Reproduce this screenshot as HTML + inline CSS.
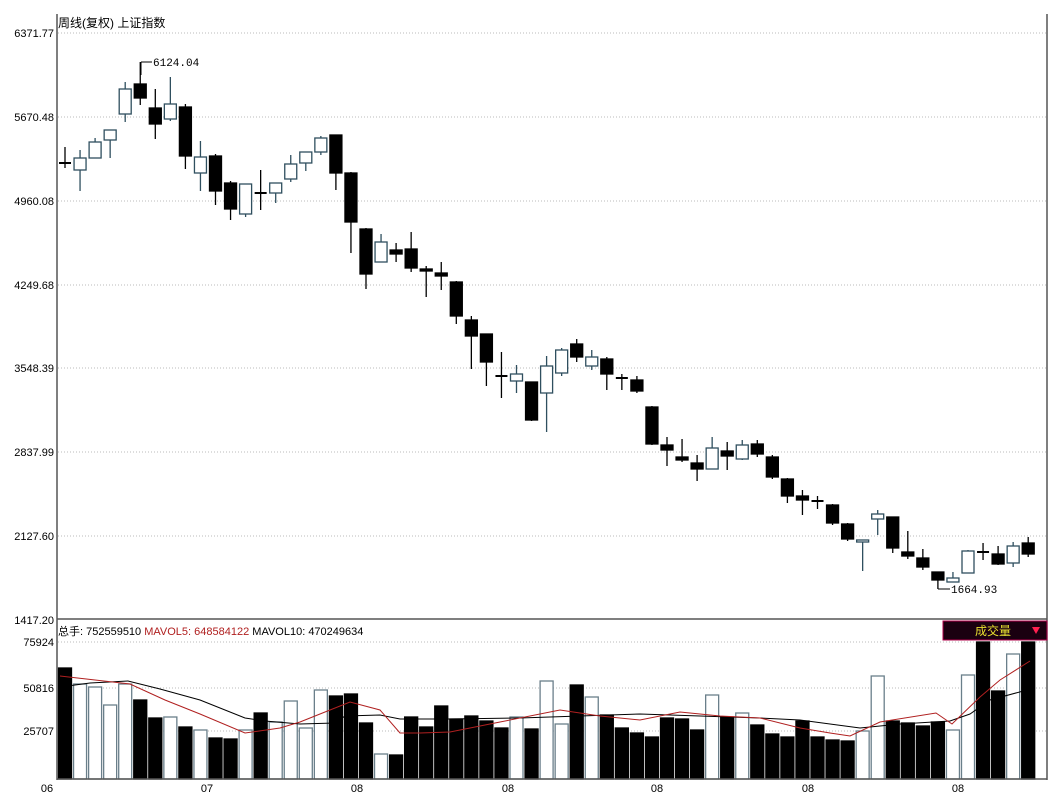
<!DOCTYPE html>
<html><head><meta charset="utf-8"><style>
body{margin:0;background:#fff;}
svg{display:block;font-family:"Liberation Sans","Noto Sans CJK SC",sans-serif;}
</style></head><body>
<svg id="s" width="1059" height="801" xmlns="http://www.w3.org/2000/svg"></svg>
<script>
const c=[
[163,163,147,168,668,0],[170,158,150,191,684,1],[158,142,138,158,687,1],[140,130,130,158,705,1],[114,89,82,122,684,1],
[84,98,62,105,700,0],[108,124,89,139,718,0],[119,104,77,121,717,1],[107,156,104,169,727,0],[173,157,141,191,730,1],
[156,191,154,205,738,0],[183,209,181,220,739,0],[214,184,184,217,730,1],[193,193,170,210,713,0],[193,183,183,203,722,1],
[179,164,155,182,701,1],[163,152,152,171,728,1],[152,138,136,155,690,1],[135,173,135,190,696,0],[173,222,172,253,694,0],
[229,274,228,289,723,0],[262,242,234,262,754,1],[250,254,243,262,755,0],[249,268,232,272,717,0],[269,271,266,297,727,0],
[273,276,262,290,706,0],[282,316,281,324,719,0],[320,336,316,369,716,0],[334,362,334,386,721,0],[376,377,352,398,728,0],
[381,374,365,393,717,1],[382,420,382,421,729,0],[393,366,356,432,681,1],[373,350,348,376,724,1],[344,357,339,362,685,0],
[366,357,350,370,697,1],[359,374,357,390,715,0],[378,379,374,390,728,0],[380,391,376,393,733,0],[407,444,406,445,737,0],
[445,450,437,466,718,0],[457,460,439,462,719,0],[463,469,455,481,730,0],[469,448,437,469,695,1],[451,456,442,470,717,0],
[459,445,440,460,713,1],[444,454,440,457,725,0],[457,477,455,479,734,0],[479,496,478,503,737,0],[496,500,490,515,721,0],
[501,502,496,509,737,0],[505,523,504,525,740,0],[524,539,523,541,741,0],[542,540,540,571,731,1],[519,514,510,535,676,1],
[517,548,517,553,721,0],[552,556,531,559,723,0],[558,567,549,570,726,0],[572,580,572,589,722,0],[582,578,572,582,730,1],
[573,551,550,573,675,1],[552,553,543,560,642,0],[554,564,546,565,691,0],[563,546,542,567,654,1],[543,554,537,557,642,0]];
let h='';
// grid
const gy=[33,117,201,285,368,452,536],gl=['6371.77','5670.48','4960.08','4249.68','3548.39','2837.99','2127.60'];
gy.forEach((y,i)=>{h+=`<line x1="58" y1="${y}" x2="1046" y2="${y}" stroke="#bbb" stroke-dasharray="1,2"/>`;h+=`<text x="54" y="${y+4}" font-size="11" text-anchor="end">${gl[i]}</text>`;});
[[642,'75924'],[688,'50816'],[731,'25707']].forEach(([y,t])=>{h+=`<line x1="58" y1="${y}" x2="1046" y2="${y}" stroke="#bbb" stroke-dasharray="1,2"/>`;h+=`<text x="54" y="${y+4}" font-size="11" text-anchor="end">${t}</text>`;});
h+=`<text x="54" y="624" font-size="11" text-anchor="end">1417.20</text>`;
c.forEach((d,i)=>{const x=65+15.05*i;const [o,cl,hi,lo,v,up]=d;const t=Math.min(o,cl),b=Math.max(o,cl);
 const col=up?'#2f4f5f':'#000';
 h+=`<line x1="${x}" y1="${hi}" x2="${x}" y2="${lo}" stroke="${col}" stroke-width="1.3"/>`;
 if(b-t<2){h+=`<rect x="${x-6}" y="${t-1}" width="12" height="2" fill="${col}"/>`;}
 else h+=`<rect x="${x-6}" y="${t}" width="12" height="${b-t}" fill="${up?'#fff':'#000'}" stroke="${col}" stroke-width="1.3"/>`;
 h+=`<rect x="${x-6.5}" y="${v}" width="13" height="${779-v}" fill="${up?'#fff':'#000'}" stroke="${up?'#6a7f8a':'#000'}" stroke-width="1.3"/>`;});
const bl=[[60,687],[90,683],[128,681],[160,689],[200,700],[245,718],[265,721],[300,724],[335,723],[345,716],[380,715],[400,719],[450,719],[520,718],[580,716],[640,714],[700,716],[760,718],[800,720],[860,728],[900,724],[950,721],[970,714],[990,700],[1027,690]];
const rl=[[60,676],[130,684],[165,700],[200,714],[245,733],[280,728],[300,722],[330,710],[350,702],[380,710],[400,733],[420,733],[450,732],[500,722],[560,710],[600,716],[640,720],[680,712],[720,716],[760,718],[800,728],[830,733],[850,736],[880,722],[936,713],[952,724],[980,697],[1000,680],[1030,661]];
h+=`<polyline points="${bl.join(' ')}" fill="none" stroke="#000" stroke-width="1"/>`;
h+=`<polyline points="${rl.join(' ')}" fill="none" stroke="#b02020" stroke-width="1"/>`;
// frame
h+=`<line x1="57" y1="14" x2="57" y2="780" stroke="#555" stroke-width="1.5"/><line x1="1047" y1="14" x2="1047" y2="780" stroke="#555" stroke-width="1.5"/>`;
h+=`<line x1="57" y1="619" x2="1047" y2="619" stroke="#555" stroke-width="1.5"/><line x1="57" y1="779" x2="1047" y2="779" stroke="#555" stroke-width="1.5"/>`;
[['06',47],['07',207],['08',357],['08',508],['08',657],['08',808],['08',958]].forEach(([t,x])=>{h+=`<text x="${x}" y="792" font-size="11" text-anchor="middle">${t}</text>`;});
h+=`<text x="58" y="27" font-size="12">周线(复权)  上证指数</text>`;
h+=`<text x="58" y="635" font-size="11">总手: 752559510 <tspan fill="#b02020">MAVOL5: 648584122</tspan> MAVOL10: 470249634</text>`;
h+=`<line x1="141" y1="62" x2="141" y2="75" stroke="#000"/><line x1="141" y1="62" x2="152" y2="62" stroke="#000"/><text x="153" y="66" font-size="11" font-family="Liberation Mono,monospace">6124.04</text>`;
h+=`<line x1="938" y1="589" x2="950" y2="589" stroke="#000"/><text x="951" y="593" font-size="11" font-family="Liberation Mono,monospace">1664.93</text>`;
h+=`<rect x="943" y="621" width="104" height="19" fill="#1a0010" stroke="#b0004a"/><text x="993" y="635" font-size="12" fill="#e8e030" text-anchor="middle">成交量</text><polygon points="1032,627 1040,627 1036,634" fill="#ff2050"/>`;
document.getElementById('s').innerHTML=h;
</script>
</body></html>
